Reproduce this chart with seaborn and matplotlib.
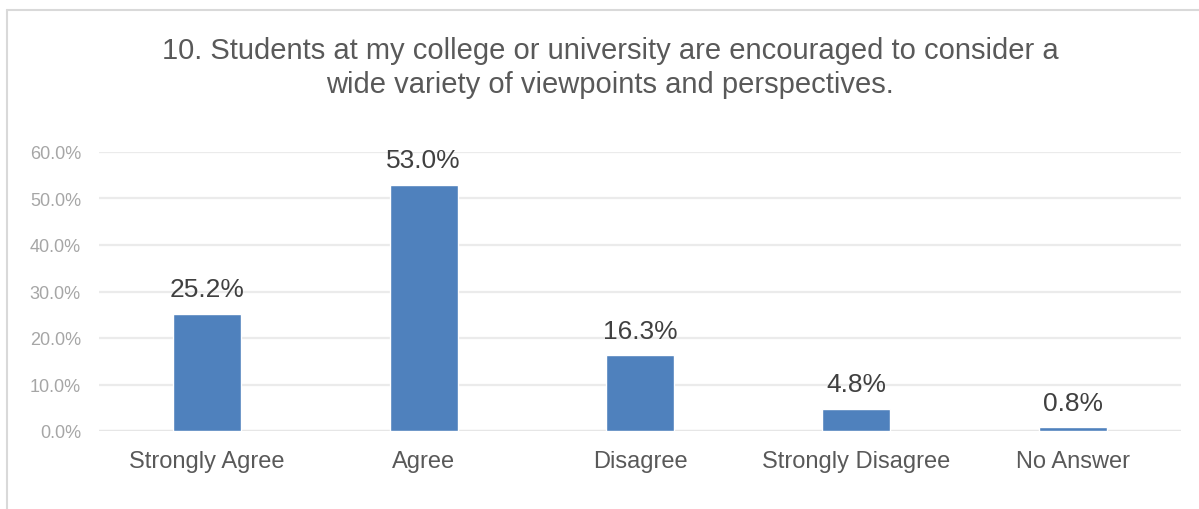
import seaborn as sns
import matplotlib.pyplot as plt
from matplotlib.lines import Line2D
from matplotlib.ticker import FuncFormatter

categories = ["Strongly Agree", "Agree", "Disagree", "Strongly Disagree", "No Answer"]
values = [25.2, 53.0, 16.3, 4.8, 0.8]
yticks = [0, 10, 20, 30, 40, 50, 60]
title = "10. Students at my college or university are encouraged to consider a\nwide variety of viewpoints and perspectives."

sns.set_style("white")
plt.rcParams['font.family'] = ['Liberation Sans', 'DejaVu Sans']

fig = plt.figure(figsize=(11.99, 5.10), dpi=100)
ax = fig.add_axes([99 / 1199, 78 / 510, (1181 - 99) / 1199, (432 - 153) / 510])

sns.barplot(x=categories, y=values, color="#4F81BD", width=0.315, saturation=1, ax=ax, zorder=3)

ax.set_ylim(0, 60)
ax.set_xlim(-0.5, 4.5)
ax.set_yticks(yticks)
ax.yaxis.set_major_formatter(FuncFormatter(lambda v, p: f"{v:.1f}%"))
ax.grid(axis='y', color="#EBEBEB", linewidth=1.6, zorder=0)
ax.set_axisbelow(True)
for s in ax.spines.values():
    s.set_visible(False)
ax.axhline(0, color="#E6E6E6", linewidth=1.6, zorder=2)
ax.tick_params(axis='y', length=0, pad=13, labelsize=13, labelcolor="#A6A6A6")
ax.tick_params(axis='x', length=0, pad=14, labelsize=17, labelcolor="#595959")
ax.set_xlabel("")
ax.set_ylabel("")

ax.bar_label(ax.containers[0], labels=[f"{v:.1f}%" for v in values],
             padding=9, fontsize=19, color="#404040")

fig.text(0.509, 1 - 68 / 510, title, ha='center', va='center', fontsize=21,
         color="#595959", linespacing=1.3)

fig.add_artist(Line2D([7 / 1199, 7 / 1199], [0, 1 - 11 / 510], transform=fig.transFigure,
                      color="#D9D9D9", linewidth=1.5))
fig.add_artist(Line2D([7 / 1199, 1], [1 - 11 / 510, 1 - 11 / 510], transform=fig.transFigure,
                      color="#D9D9D9", linewidth=1.5))

fig.savefig("out.png", dpi=100)
